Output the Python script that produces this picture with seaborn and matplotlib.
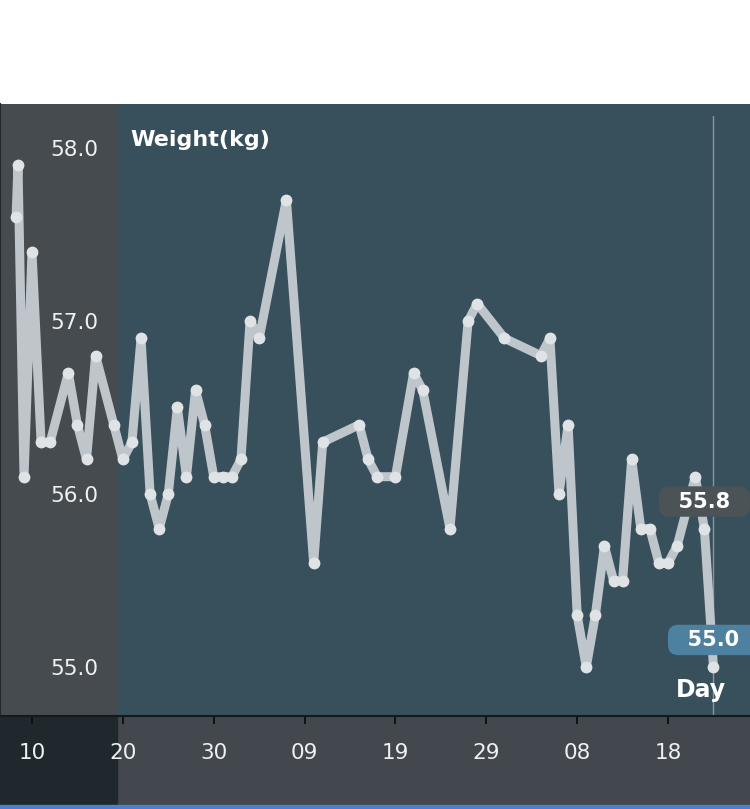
import matplotlib

matplotlib.use("Agg")
import matplotlib.dates as mdates
import matplotlib.pyplot as plt
import pandas as pd
import seaborn as sns
from matplotlib.patches import Rectangle

# 측정 시각과 체중(kg)
dates = [
    "2013-07-08 06:00", "2013-07-08 11:00", "2013-07-09 03:00",
    "2013-07-10", "2013-07-11", "2013-07-12", "2013-07-14", "2013-07-15",
    "2013-07-16", "2013-07-17", "2013-07-19", "2013-07-20", "2013-07-21",
    "2013-07-22", "2013-07-23", "2013-07-24", "2013-07-25", "2013-07-26",
    "2013-07-27", "2013-07-28", "2013-07-29", "2013-07-30", "2013-07-31",
    "2013-08-01", "2013-08-02", "2013-08-03", "2013-08-04", "2013-08-07",
    "2013-08-10", "2013-08-11", "2013-08-15", "2013-08-16", "2013-08-17",
    "2013-08-19", "2013-08-21", "2013-08-22", "2013-08-25", "2013-08-27",
    "2013-08-28", "2013-08-31", "2013-09-04", "2013-09-05", "2013-09-06",
    "2013-09-07", "2013-09-08", "2013-09-09", "2013-09-10", "2013-09-11",
    "2013-09-12", "2013-09-13", "2013-09-14", "2013-09-15", "2013-09-16",
    "2013-09-17", "2013-09-18", "2013-09-19", "2013-09-21", "2013-09-22",
    "2013-09-23",
]
weights = [
    57.6, 57.9, 56.1,
    57.4, 56.3, 56.3, 56.7, 56.4,
    56.2, 56.8, 56.4, 56.2, 56.3,
    56.9, 56.0, 55.8, 56.0, 56.5,
    56.1, 56.6, 56.4, 56.1, 56.1,
    56.1, 56.2, 57.0, 56.9, 57.7,
    55.6, 56.3, 56.4, 56.2, 56.1,
    56.1, 56.7, 56.6, 55.8, 57.0,
    57.1, 56.9, 56.8, 56.9, 56.0,
    56.4, 55.3, 55.0, 55.3, 55.7,
    55.5, 55.5, 56.2, 55.8, 55.8,
    55.6, 55.6, 55.7, 56.1, 55.8,
    55.0,
]
xtick_dates = ["2013-07-10", "2013-07-20", "2013-07-30", "2013-08-09",
               "2013-08-19", "2013-08-29", "2013-09-08", "2013-09-18"]
ytick_values = [55.0, 56.0, 57.0, 58.0]
ytick_labels = ["55.0", "56.0", "57.0", "58.0"]

sns.set_theme(style="dark", rc={"axes.facecolor": "#37505C", "figure.facecolor": "white"})
plt.rcParams["font.family"] = ["DejaVu Sans"]

df = pd.DataFrame({"date": pd.to_datetime(dates, format="mixed"), "weight": weights})
ticks = pd.to_datetime(xtick_dates)

W, H = 750, 809
fig = plt.figure(figsize=(W / 100, H / 100), dpi=100)
ax = fig.add_axes((0, 93 / H, 1, 612 / H))

# 아래쪽 날짜 띠와 파란 줄 (축 뒤에 그림)
fig.patches.extend([
    Rectangle((0, 4 / H), 1, 89 / H, transform=fig.transFigure, color="#42484D", zorder=-2),
    Rectangle((0, 4 / H), 117 / W, 89 / H, transform=fig.transFigure, color="#1F292D", zorder=-1),
    Rectangle((0, 0), 1, 4 / H, transform=fig.transFigure, color="#4A80CC", zorder=-1),
])
# 왼쪽 세로축 영역
ax.add_patch(Rectangle((0, 0), 117 / W, 1, transform=ax.transAxes, color="#464B4F", zorder=0))

sns.lineplot(data=df, x="date", y="weight", ax=ax, color="#BFC6CB", linewidth=6.5,
             marker="o", markersize=8.5, markerfacecolor="#DFE3E5",
             markeredgewidth=0, zorder=3)

ax.set_xlim(ticks[0] - pd.Timedelta(days=3.52), ticks[0] + pd.Timedelta(days=79.02))
ax.set_ylim(54.717, 58.254)

ax.set_yticks(ytick_values, labels=ytick_labels)
ax.tick_params(axis="y", left=True, length=0, pad=-70.5, labelsize=15.5, labelcolor="#EEF0F2")

ax.set_xticks(ticks)
ax.xaxis.set_major_formatter(mdates.DateFormatter("%d"))
ax.tick_params(axis="x", bottom=True, direction="out", length=5.8, width=1.4,
               color="#111111", pad=13.5, labelsize=15.5, labelcolor="#EEF0F2")

ax.set_xlabel(None)
ax.set_ylabel(None)
for side in ["top", "right"]:
    ax.spines[side].set_visible(False)
ax.spines["bottom"].set_color("#15191B")
ax.spines["bottom"].set_linewidth(1.5)
ax.spines["left"].set_color("#22292C")
ax.spines["left"].set_linewidth(1.5)

# 선택된 날짜 표시선
ax.axvline(df["date"].iloc[-1], ymin=0, ymax=0.98, color="#8A969C", linewidth=1, zorder=2)

ax.text(130 / W, (716 - 140) / 612, "Weight(kg)", transform=ax.transAxes, ha="left",
        va="center", fontsize=16, fontweight="bold", color="white")
ax.text(701 / W, 26 / 612, "Day", transform=ax.transAxes, ha="center", va="center",
        fontsize=17, fontweight="bold", color="white")

# 마지막 두 값의 말풍선
for idx, fc in [(-2, "#4B5357"), (-1, "#4E809F")]:
    d, w = df["date"].iloc[idx], df["weight"].iloc[idx]
    ax.annotate(f"  {w:.1f}  ", xy=(d, w), xytext=(0, 19.5), textcoords="offset points",
                ha="center", va="center", fontsize=15, fontweight="bold", color="white",
                bbox=dict(boxstyle="round,pad=0.25,rounding_size=0.5", fc=fc, ec="none"),
                zorder=5, annotation_clip=False)

fig.savefig("out.png", dpi=100)
